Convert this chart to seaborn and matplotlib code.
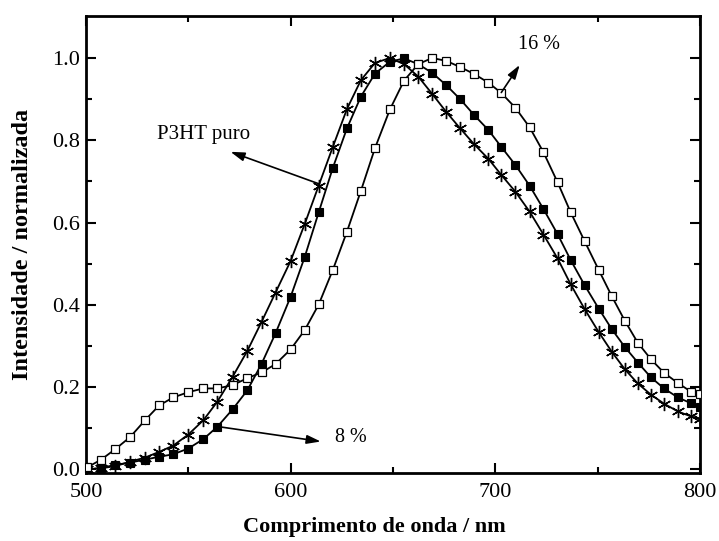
import matplotlib
matplotlib.use("Agg")
import matplotlib.pyplot as plt
import seaborn as sns
import pandas as pd

# Wavelength grid (nm) shared by the three spectra
wavelength = [500.5, 507.4, 514.2, 521.6, 528.9, 535.8, 542.6, 550.0, 557.4, 564.2,
              571.6, 578.9, 585.8, 592.6, 600.0, 606.9, 613.7, 620.6, 627.5, 634.3,
              641.2, 648.5, 655.4, 662.3, 669.1, 676.0, 682.8, 689.7, 696.6, 702.9,
              709.8, 716.7, 723.5, 730.4, 736.8, 743.6, 750.5, 756.9, 763.2, 769.6,
              776.0, 782.4, 789.2, 795.6, 800.0]

# Normalised emission intensities
p3ht_puro = [0.000, 0.003, 0.008, 0.019, 0.029, 0.043, 0.058, 0.085, 0.120, 0.165,
             0.225, 0.289, 0.359, 0.430, 0.507, 0.597, 0.690, 0.784, 0.876, 0.946,
             0.988, 1.000, 0.985, 0.955, 0.913, 0.869, 0.829, 0.790, 0.755, 0.716,
             0.675, 0.627, 0.571, 0.513, 0.450, 0.390, 0.334, 0.286, 0.244, 0.209,
             0.182, 0.160, 0.141, 0.129, 0.122]

pct_8 = [0.000, 0.004, 0.011, 0.017, 0.024, 0.031, 0.037, 0.051, 0.074, 0.104,
         0.146, 0.193, 0.257, 0.331, 0.420, 0.517, 0.625, 0.733, 0.829, 0.906,
         0.962, 0.991, 0.999, 0.985, 0.964, 0.934, 0.900, 0.861, 0.825, 0.784,
         0.740, 0.690, 0.633, 0.572, 0.509, 0.448, 0.391, 0.341, 0.298, 0.260,
         0.224, 0.197, 0.175, 0.161, 0.151]

pct_16 = [0.005, 0.024, 0.049, 0.079, 0.120, 0.156, 0.175, 0.188, 0.197, 0.197,
          0.205, 0.222, 0.236, 0.256, 0.292, 0.339, 0.401, 0.485, 0.578, 0.677,
          0.781, 0.875, 0.945, 0.985, 1.000, 0.993, 0.978, 0.961, 0.940, 0.915,
          0.879, 0.832, 0.771, 0.698, 0.625, 0.555, 0.485, 0.421, 0.362, 0.308,
          0.268, 0.235, 0.210, 0.189, 0.183]

x_ticks = [500, 600, 700, 800]
y_ticks = [0.0, 0.2, 0.4, 0.6, 0.8, 1.0]

sns.set_theme(style="ticks")
plt.rcParams["font.family"] = ["Liberation Serif", "DejaVu Serif"]
plt.rcParams["mathtext.fontset"] = "stix"
plt.rcParams["text.color"] = "black"
plt.rcParams["axes.labelcolor"] = "black"

fig = plt.figure(figsize=(7.19, 5.41), dpi=100)
ax = fig.add_axes([0.1196, 0.1257, 0.8540, 0.8447])

df = pd.DataFrame({"nm": wavelength, "puro": p3ht_puro, "p8": pct_8, "p16": pct_16})

line_kw = dict(color="black", linewidth=1.3, ax=ax, legend=False)
sns.lineplot(data=df, x="nm", y="p8", marker="s", markersize=6.2,
             markerfacecolor="black", markeredgecolor="black", markeredgewidth=0.8,
             zorder=3, **line_kw)
sns.lineplot(data=df, x="nm", y="puro", marker=(6, 2, 0), markersize=9.5,
             markeredgecolor="black", markeredgewidth=1.0,
             zorder=4, **line_kw)
sns.lineplot(data=df, x="nm", y="p16", marker="s", markersize=6.2,
             markerfacecolor="white", markeredgecolor="black", markeredgewidth=0.9,
             zorder=5, **line_kw)

ax.set_xlim(500, 800)
ax.set_ylim(-0.0085, 1.102)
ax.set_xticks(x_ticks)
ax.set_yticks(y_ticks)
ax.set_xticklabels([str(v) for v in x_ticks])
ax.set_yticklabels([f"{v:.1f}" for v in y_ticks])
ax.set_xticks([550, 650, 750], minor=True)
ax.set_yticks([0.1, 0.3, 0.5, 0.7, 0.9], minor=True)

ax.tick_params(which="both", direction="in", top=True, right=True,
               width=1.5, colors="black", labelsize=16)
ax.tick_params(which="major", length=7)
ax.tick_params(which="minor", length=4)
ax.tick_params(axis="x", which="major", pad=7)
ax.tick_params(axis="y", which="major", pad=4)

for side in ax.spines.values():
    side.set_linewidth(2.0)
    side.set_color("black")

ax.set_xlabel("Comprimento de onda / nm", fontsize=16, fontweight="bold", color="black")
ax.set_ylabel("Intensidade / normalizada", fontsize=17.5, fontweight="bold", color="black")
ax.xaxis.set_label_coords(0.469, -0.096, transform=ax.transAxes)
ax.yaxis.set_label_coords(-0.086, 0.5, transform=ax.transAxes)

arrow = dict(arrowstyle="-|>,head_length=0.7,head_width=0.22", color="black",
             linewidth=1.2, shrinkA=0, shrinkB=0)
ax.annotate("", xy=(570.6, 0.772), xytext=(613.9, 0.694), arrowprops=arrow, zorder=6)
ax.text(557.4, 0.813, "P3HT puro", fontsize=15, ha="center", va="center", color="black")

ax.annotate("", xy=(614.7, 0.068), xytext=(564.9, 0.104), arrowprops=arrow, zorder=6)
ax.text(629.4, 0.077, "8 %", fontsize=14.5, ha="center", va="center", color="black")

ax.annotate("", xy=(711.9, 0.983), xytext=(702.9, 0.916), arrowprops=arrow, zorder=6)
ax.text(721.1, 1.032, "16 %", fontsize=14.5, ha="center", va="center", color="black")

fig.savefig("out.png", dpi=100)
